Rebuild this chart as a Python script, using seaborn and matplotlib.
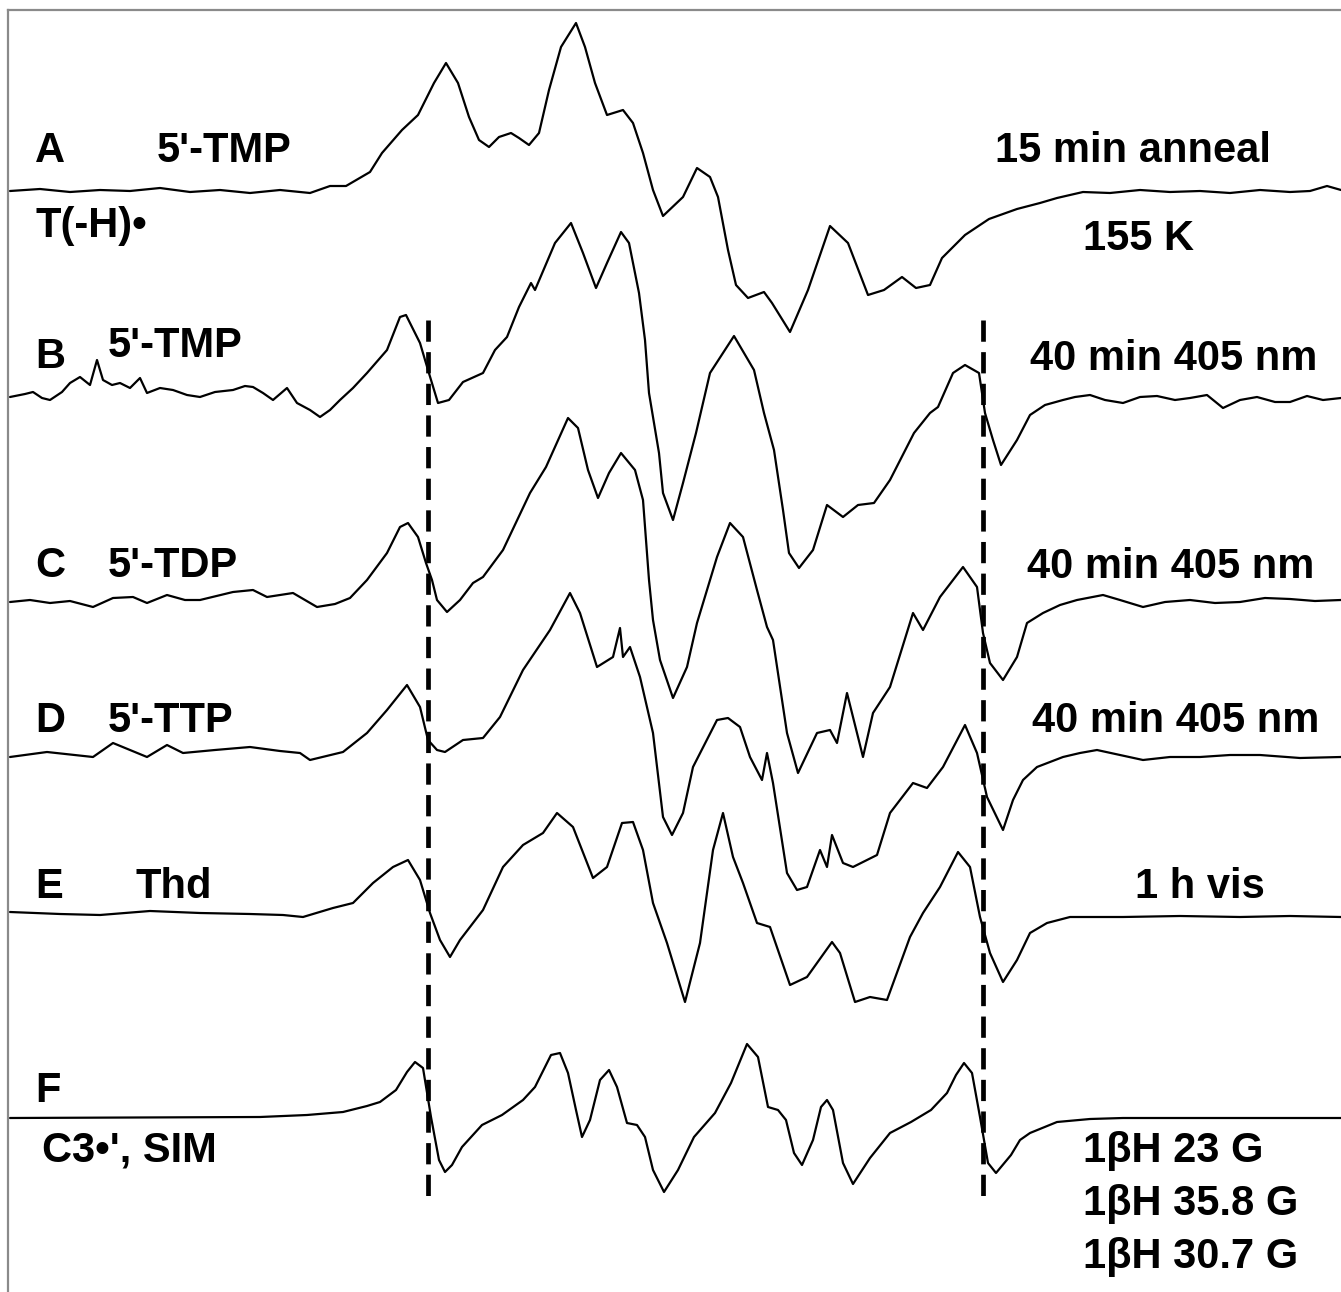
import numpy as np
import pandas as pd
import seaborn as sns
import matplotlib.pyplot as plt

# EPR spectra: field position (arb. units) and the trace
# position measured from the top; each trace is referred to its own baseline
trace_names = ["A", "B", "C", "D", "E", "F"]
baselines = [190, 398, 600, 755, 914, 1118]

field_a = [10, 40, 70, 100, 130, 160, 190, 220, 250, 280, 310, 330, 346, 370, 382, 402, 418, 434, 446,
           458, 469, 479, 489, 499, 511, 519, 529, 539, 549, 561, 576, 585, 595, 607, 623, 633, 643,
           653, 663, 683, 697, 710, 718, 728, 736, 748, 764, 772, 790, 808, 830, 848, 868, 884, 902,
           916, 930, 942, 965, 989, 1017, 1040, 1057, 1083, 1110, 1140, 1170, 1200, 1230, 1260,
           1290, 1310, 1327, 1341]
pix_a = [191, 189, 192, 190, 191, 188, 192, 190, 193, 190, 193, 186, 186, 172, 153, 130, 115, 83, 63,
         83, 117, 140, 147, 137, 133, 138, 145, 133, 90, 47, 23, 47, 83, 115, 110, 123, 153,
         190, 216, 197, 168, 177, 197, 250, 285, 298, 292, 303, 332, 290, 226, 243, 295, 290, 277,
         288, 285, 258, 235, 219, 209, 203, 198, 192, 193, 190, 192, 191, 193, 190,
         192, 191, 186, 190]

field_b = [10, 25, 33, 42, 50, 62, 70, 80, 90, 97, 103, 112, 120, 130, 140, 147, 160, 173, 187, 200,
           215, 233, 245, 253, 263, 273, 287, 297, 310, 320, 330, 340, 353, 367, 387, 400, 406, 420,
           428, 438, 449, 463, 483, 495, 507, 519, 531, 535, 555, 571, 583, 596, 607, 621, 629, 639,
           645, 649, 659, 663, 673, 683, 696, 710, 734, 754, 764, 774, 783, 789, 799, 813, 827, 843,
           858, 874, 890, 914, 930, 938, 953, 965, 979, 985, 993, 1001, 1017, 1030, 1045, 1063,
           1075, 1090, 1105, 1123, 1140, 1157, 1175, 1190, 1207, 1223, 1240, 1257, 1275, 1290,
           1307, 1323, 1341]
pix_b = [397, 394, 392, 398, 400, 392, 383, 377, 385, 360, 380, 385, 383, 388, 378, 393, 388, 390, 395, 397,
         392, 390, 386, 387, 393, 400, 388, 403, 410, 417, 410, 400, 388, 373, 350, 317, 315, 343,
         370, 403, 400, 382, 373, 350, 337, 307, 283, 290, 243, 223, 253, 288, 263, 232, 243, 293,
         340, 393, 453, 493, 520, 483, 433, 373, 336, 370, 413, 450, 510, 553, 568, 550, 505, 517,
         505, 503, 480, 433, 413, 407, 373, 365, 373, 413, 440, 465, 440, 415, 405, 400,
         397, 395, 400, 403, 397, 396, 400, 398, 395, 408, 400, 397, 402, 402,
         396, 400, 398]

field_c = [10, 30, 50, 70, 93, 113, 133, 147, 167, 185, 200, 233, 253, 267, 293, 317, 335, 350, 367,
           387, 400, 408, 418, 426, 432, 437, 447, 460, 473, 483, 503, 530, 546, 568, 578, 588, 598,
           609, 621, 635, 643, 649, 653, 660, 673, 687, 697, 717, 730, 743, 757, 767, 773, 787, 798,
           817, 830, 837, 847, 857, 863, 873, 890, 913, 923, 940, 963, 977, 983, 990, 1003, 1017,
           1027, 1043, 1060, 1077, 1103, 1120, 1143, 1165, 1190, 1215, 1240, 1265, 1290, 1315, 1341]
pix_c = [602, 600, 603, 601, 607, 598, 597, 603, 595, 600, 600, 592, 590, 597, 593, 607, 604, 598, 580,
         553, 527, 523, 537, 563, 580, 600, 612, 600, 583, 577, 550, 493, 467, 418, 428, 470, 498,
         473, 453, 470, 500, 580, 620, 660, 698, 667, 623, 557, 523, 537, 590, 627, 640, 733, 773,
         733, 730, 743, 693, 733, 757, 713, 687, 613, 630, 597, 567, 587, 633, 663, 680, 657,
         623, 613, 605, 600, 595, 600, 607, 602, 600, 603, 602, 598, 599, 601, 600]

field_d = [10, 47, 93, 113, 147, 167, 183, 215, 250, 280, 300, 310, 343, 367, 387, 407, 420, 428, 437,
           445, 463, 483, 500, 523, 550, 570, 580, 597, 613, 620, 623, 630, 640, 653, 663, 672, 683,
           693, 717, 728, 740, 750, 762, 767, 773, 787, 797, 807, 820, 827, 832, 843, 853, 877, 890,
           913, 927, 943, 965, 977, 987, 1003, 1013, 1023, 1037, 1063, 1080, 1097, 1120, 1143, 1170,
           1200, 1230, 1260, 1300, 1341]
pix_d = [757, 752, 757, 743, 757, 745, 753, 750, 747, 751, 753, 760, 752, 733, 710, 685, 707, 740, 750,
         752, 740, 738, 717, 670, 630, 593, 613, 667, 657, 628, 657, 647, 677, 733, 817, 835, 813,
         767, 720, 718, 727, 757, 780, 753, 783, 873, 890, 887, 850, 867, 835, 863, 867, 855, 813,
         783, 788, 767, 725, 753, 797, 830, 800, 780, 767, 757, 753, 750, 755, 760, 757,
         757, 755, 755, 758, 757]

field_e = [10, 60, 100, 150, 200, 250, 283, 303, 333, 353, 373, 393, 408, 420, 430, 440, 450, 460, 483,
           503, 523, 543, 557, 573, 593, 607, 622, 633, 643, 653, 667, 685, 700, 713, 723, 733, 743,
           757, 770, 790, 807, 832, 840, 855, 870, 887, 910, 923, 940, 958, 970, 980, 990, 1003,
           1017, 1030, 1047, 1070, 1123, 1180, 1240, 1290, 1341]
pix_e = [912, 914, 915, 911, 913, 914, 915, 917, 908, 903, 883, 867, 860, 880, 913, 940, 957, 940, 910,
         867, 845, 833, 813, 827, 878, 867, 823, 822, 850, 903, 943, 1002, 943, 850, 813, 857, 883,
         923, 927, 985, 977, 942, 953, 1002, 997, 1000, 937, 913, 887, 852, 867, 917, 953, 982,
         960, 933, 923, 917, 917, 916, 917, 916, 917]

field_f = [10, 260, 307, 343, 367, 380, 396, 407, 415, 423, 431, 439, 445, 452, 462, 482, 502, 523, 535,
           551, 560, 568, 576, 582, 590, 600, 609, 617, 627, 637, 645, 653, 664, 678, 694, 715, 731,
           747, 758, 768, 778, 786, 794, 802, 813, 821, 827, 833, 843, 853, 870, 890, 911, 931, 947,
           956, 964, 972, 980, 988, 996, 1011, 1020, 1030, 1057, 1090, 1123, 1341]
pix_f = [1118, 1117, 1115, 1112, 1106, 1102, 1090, 1072, 1062, 1068, 1117, 1160, 1172, 1165, 1147, 1125,
         1115, 1100, 1087, 1055, 1053, 1073, 1110, 1137, 1120, 1080, 1070, 1087, 1123, 1125, 1137,
         1170, 1192, 1170, 1137, 1113, 1083, 1044, 1057, 1107, 1110, 1120, 1153, 1165, 1140, 1107,
         1100, 1110, 1163, 1184, 1158, 1133, 1122, 1110, 1093, 1075, 1063, 1073, 1117, 1163, 1173,
         1155, 1140, 1133, 1122, 1119, 1118, 1118]

fields = [field_a, field_b, field_c, field_d, field_e, field_f]
pixels = [pix_a, pix_b, pix_c, pix_d, pix_e, pix_f]

left_labels = ["A", "B", "C", "D", "E", "F"]
sample_labels = ["5'-TMP", "5'-TMP", "5'-TDP", "5'-TTP", "Thd"]
cond_labels = ["15 min anneal", "40 min 405 nm", "40 min 405 nm", "40 min 405 nm", "1 h vis"]
sim_params = ["1βH 23 G", "1βH 35.8 G", "1βH 30.7 G"]
marker_fields = [428, 983]

# long table, signal relative to each baseline
rows = []
for name, base, fx, py in zip(trace_names, baselines, fields, pixels):
    for f, p in zip(fx, py):
        rows.append({"trace": name, "field": f, "signal": base - p, "offset": base})
df = pd.DataFrame(rows)
df["y"] = df["offset"] - df["signal"]

sns.set_style("white")
plt.rcParams["font.family"] = ["Liberation Sans", "DejaVu Sans"]

W, H = 1341, 1292
fig = plt.figure(figsize=(W / 100, H / 100), dpi=100)
ax = fig.add_axes([8 / W, 0, 1 - 8 / W, 1 - 10 / H])

sns.lineplot(data=df, x="field", y="y", units="trace", estimator=None, sort=False,
             color="black", linewidth=1.6, ax=ax, legend=False)
for ln in ax.lines:
    ln.set_solid_joinstyle("round")

ax.vlines(marker_fields, 320, 1203, colors="black", linewidth=3.4,
          linestyles=(0, (4.5, 2.2)))

ax.set_xlim(8, W)
ax.set_ylim(H, 10)
ax.set_xticks([])
ax.set_yticks([])
ax.set_xlabel("")
ax.set_ylabel("")
for s in ["right", "bottom"]:
    ax.spines[s].set_visible(False)
for s in ["top", "left"]:
    ax.spines[s].set_color("#8a8a8a")
    ax.spines[s].set_linewidth(1.6)

kw = dict(fontsize=30, fontweight="bold", va="baseline", ha="left", color="black")

letter_y = [162, 368, 577, 732, 898, 1102]
for lab, yy in zip(left_labels, letter_y):
    ax.text(35, yy, lab, **kw)

sample_pos = [(157, 162), (108, 357), (108, 577), (108, 732), (135, 898)]
for lab, (xx, yy) in zip(sample_labels, sample_pos):
    ax.text(xx, yy, lab, **kw)

cond_pos = [(995, 162), (1030, 370), (1027, 578), (1032, 732), (1135, 898)]
for lab, (xx, yy) in zip(cond_labels, cond_pos):
    ax.text(xx, yy, lab, **kw)

ax.text(35, 237, "T(-H)•", **kw)
ax.text(1083, 250, "155 K", **kw)
ax.text(42, 1162, "C3•', SIM", **kw)
for lab, yy in zip(sim_params, [1162, 1215, 1268]):
    ax.text(1083, yy, lab, **kw)

fig.savefig("out.png", dpi=100)
